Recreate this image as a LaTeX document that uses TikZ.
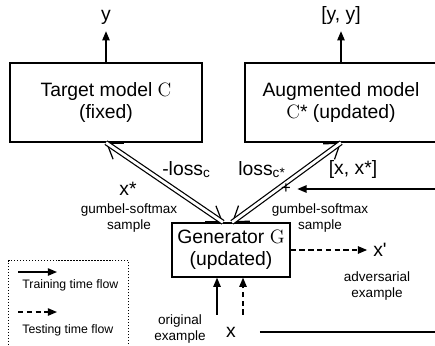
\documentclass[tikz,border=0pt]{standalone}
\usepackage{fontspec}
\setsansfont{Liberation Sans}
\usepackage{tikz}
\usetikzlibrary{arrows.meta}

\begin{document}
\begin{tikzpicture}[
	box/.style={font=\sffamily\fontsize{11}{12.6}\selectfont, draw, line width=0.75pt, align=center, inner sep=0},
	lbl/.style={font=\sffamily\fontsize{11}{12.6}\selectfont},
	note/.style={font=\sffamily\fontsize{7.7}{8.6}\selectfont, align=center},
	legtxt/.style={font=\sffamily\fontsize{7}{8}\selectfont, inner sep=0},
	legend/.style={draw, line width=0.6pt, dash pattern=on 0.7pt off 1pt},
	flow/.style={line width=0.75pt, -{Triangle[length=5.2pt, width=4.2pt]}},
	testflow/.style={flow, dash pattern=on 3pt off 2pt},
	barbs/.style={line width=0.7pt, {Straight Barb[length=8pt, width=11pt]}-{Straight Barb[length=8pt, width=11pt]}},
	dbl/.style={line width=0.7pt, double distance=1.6pt}
]
\useasboundingbox (0,0) rectangle (8.7,6.9);
\clip (0,0) rectangle (8.7,6.9);

% models and generator
\node[box, minimum width=3.84cm, minimum height=1.58cm] (target) at (2.12,4.85) {Target model \textrm{C}\\(fixed)};
\node[box, minimum width=3.84cm, minimum height=1.58cm] (augm) at (6.82,4.85) {Augmented model\\\textrm{C}* (updated)};
\node[box, minimum width=2.36cm, minimum height=1.08cm] (gen) at (4.62,1.90) {Generator \textrm{G}\\(updated)};

% outputs
\node[lbl, anchor=base] (yout) at (2.12,6.48) {y};
\node[lbl, anchor=base] (yyout) at (6.82,6.48) {[y, y]};
\draw[flow] (target) -- (yout);
\draw[flow] (augm) -- (yyout);

% samples up, gradients down
\coordinate (gl) at ([xshift=-0.16cm]gen.north);
\coordinate (gr) at ([xshift=0.02cm]gen.north);
\draw[barbs] (target.south) -- (gl);
\draw[dbl] (target.south) -- (gl);
\draw[barbs] (gr) -- (augm.south);
\draw[dbl] (gr) -- (augm.south);

\node[lbl, anchor=base] (lossC) at (3.73,3.40) {-loss\textsubscript{c}};
\node[lbl, anchor=base] (lossCs) at (5.24,3.40) {loss\textsubscript{c*}};
\node[lbl, anchor=base] (xcat) at (7.06,3.42) {[x, x*]};
\node[lbl, anchor=base] (xstar) at (2.56,3.00) {x*};
\node[note] (gsl) at (2.58,2.54) {gumbel-softmax\\sample};
\node[note] (gsr) at (6.40,2.54) {gumbel-softmax\\sample};

\node[note, font=\sffamily\fontsize{9.5}{10}\selectfont, inner sep=3.5pt] (plus) at (5.72,3.12) {+};
\coordinate (xcatin) at (8.8,3.12);
\draw[flow] (xcatin) -- (plus);

% adversarial output
\node[lbl, anchor=base] (xadv) at (7.60,1.78) {x\textquotesingle};
\node[note] (adv) at (7.54,1.18) {adversarial\\example};
\draw[testflow] (gen.east) -- (gen.east -| xadv.west);

% input
\node[lbl, minimum width=1.14cm, minimum height=0.68cm] (xin) at (4.62,0.26) {x};
\node[note] (orig) at (3.60,0.32) {original\\example};
\coordinate (xout) at (8.8,0.26);
\draw[line width=0.75pt] (xin) -- (xout);
\draw[flow] ([xshift=-0.28cm]xin.north) -- ([xshift=-0.28cm]gen.south);
\draw[testflow] ([xshift=0.24cm]xin.north) -- ([xshift=0.24cm]gen.south);

% legend
\node[legend, anchor=north west, minimum width=2.4cm, minimum height=1.9cm] (legbox) at (0.16,1.70) {};
\draw[flow] ([shift={(0.2,-0.24)}]legbox.north west) -- ++(0.78,0);
\draw[testflow] ([shift={(0.2,-1.04)}]legbox.north west) -- ++(0.78,0);
\node[legtxt, anchor=base west] (legtrain) at (0.44,1.14) {Training time flow};
\node[legtxt, anchor=base west] (legtest) at (0.44,0.24) {Testing time flow};
\end{tikzpicture}
\end{document}
